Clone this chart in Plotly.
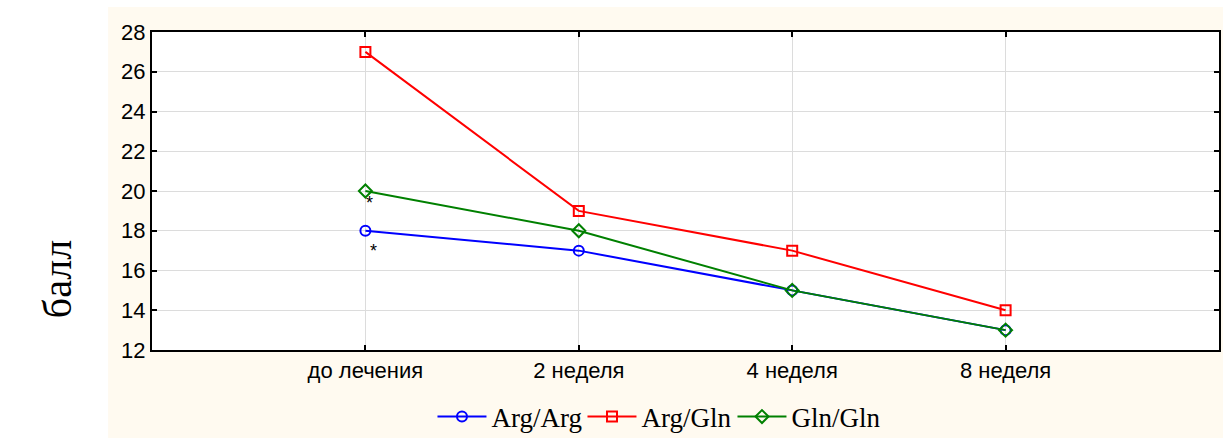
import plotly.graph_objects as go

categories = ["до лечения", "2 неделя", "4 неделя", "8 неделя"]
arg_arg = [18, 17, 15, 13]
arg_gln = [27, 19, 17, 14]
gln_gln = [20, 18, 15, 13]
y_ticks = [12, 14, 16, 18, 20, 22, 24, 26, 28]

series = [
    ("Arg/Arg", arg_arg, "#0000ff", "circle-open"),
    ("Arg/Gln", arg_gln, "#ff0000", "square-open"),
    ("Gln/Gln", gln_gln, "#008000", "diamond-open"),
]

fig = go.Figure()
for name, vals, color, sym in series:
    fig.add_trace(go.Scatter(
        x=categories, y=vals, name=name, mode="lines+markers",
        line=dict(color=color, width=2),
        marker=dict(symbol=sym, size=10, color=color, line=dict(width=2, color=color)),
        cliponaxis=False,
    ))

W, H = 1223, 438
L, R, T, B = 152, 2, 32, 88
pw, ph = W - L - R, H - T - B


def px(x):
    return (x - L) / pw


def py(y):
    return (H - B - y) / ph


cream = "#fffaf0"
fig.update_layout(
    width=W, height=H,
    paper_bgcolor="white", plot_bgcolor="white",
    margin=dict(l=L, r=R, t=T, b=B),
    showlegend=True,
    legend=dict(orientation="h", x=px(433), xanchor="left",
                yref="container", y=(H - 417) / H, yanchor="middle",
                font=dict(family="Liberation Serif", size=27, color="black"),
                bgcolor="rgba(0,0,0,0)", itemwidth=49, tracegroupgap=0,
                entrywidth=86, entrywidthmode="pixels"),
    font=dict(family="Liberation Sans", size=22, color="black"),
    shapes=[
        dict(type="rect", xref="paper", yref="paper", x0=px(108), x1=px(1230), y0=py(438), y1=py(7),
             fillcolor=cream, line=dict(width=0), layer="below"),
        dict(type="rect", xref="paper", yref="paper", x0=0, x1=1, y0=0, y1=1,
             fillcolor="white", line=dict(width=0), layer="below"),
    ],
    annotations=[
        dict(text="балл", xref="paper", yref="paper", x=px(57), y=py(279),
             xanchor="center", yanchor="middle",
             textangle=-90, showarrow=False, font=dict(family="Liberation Serif", size=40, color="black")),
        dict(text="*", x=categories[0], y=19.6, xshift=4, yshift=-4, showarrow=False,
             font=dict(family="Liberation Sans", size=18, color="black")),
        dict(text="*", x=categories[0], y=17.2, xshift=8, yshift=-4, showarrow=False,
             font=dict(family="Liberation Sans", size=18, color="black")),
    ],
)
fig.update_xaxes(
    type="category", range=[-1, 4], showgrid=True, gridcolor="#dcdcdc", gridwidth=1,
    showline=True, linecolor="black", linewidth=2, mirror="ticks",
    ticks="inside", ticklen=5, tickcolor="black", tickwidth=1.5, zeroline=False,
)
fig.update_yaxes(
    range=[12, 28], tickvals=y_ticks, showgrid=True, gridcolor="#dcdcdc", gridwidth=1,
    showline=True, linecolor="black", linewidth=2, mirror="ticks",
    ticks="inside", ticklen=5, tickcolor="black", tickwidth=1.5, zeroline=False,
)
fig.write_html(
    "out.html",
    config={"displayModeBar": False},
    post_script=(
        "document.documentElement.style.overflow='hidden';"
        "document.body.style.margin='0px';"
        "document.body.style.overflow='hidden';"
        "document.body.style.background='linear-gradient(to right, #ffffff 108px, %s 108px)';" % cream
    ),
)
